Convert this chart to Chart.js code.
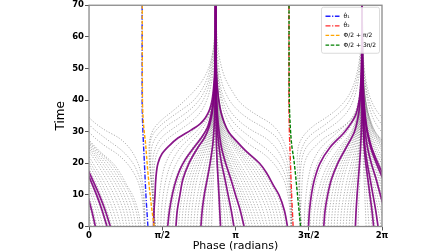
<!DOCTYPE html>
<html><head><meta charset="utf-8">
<script src="https://cdn.jsdelivr.net/npm/chart.js@4.4.0/dist/chart.umd.min.js"></script>
<style>html,body{margin:0;padding:0;background:#fff;}#wrap{width:448px;height:252px;}</style>
</head><body><div id="wrap"><canvas id="c" width="448" height="252"></canvas></div>
<script>
// ---------- axis ticks ----------
const xTickValues = [0, Math.PI/2, Math.PI, 3*Math.PI/2, 2*Math.PI];
const xTickLabels = ['0', 'π/2', 'π', '3π/2', '2π'];
const yTickValues = [0,10,20,30,40,50,60,70];

// ---------- stable phases where trajectories converge (rad) ----------
const stablePhases = [2.714, 5.856];

// ---------- gray trajectories moving LEFT toward a stable phase ----------
// outer members: flat [time, phase offset right of the stable phase (rad), ...]
const leftOuter = [
 [0,1.637, 10,1.622, 15,1.601, 21,1.579, 26,1.483, 30.3,1.333, 33,1.141, 34.5,0.969, 36.5,0.755, 39,0.541, 43,0.349, 47,0.203, 51,0.118, 55,0.064, 60,0.030, 65,0.013],
 [0,1.635, 10,1.616, 15,1.588, 20,1.541, 25,1.434, 28.5,1.284, 31.5,1.006, 33.5,0.770, 36,0.535, 39,0.342, 43,0.193, 47,0.111, 52,0.056, 57,0.026, 62,0.011],
 [0,1.631, 10,1.605, 15,1.562, 20,1.477, 25,1.284, 28,1.070, 30.5,0.770, 33,0.535, 36,0.342, 40,0.193, 44,0.111, 48,0.064, 53,0.030, 58,0.013],
 [0,1.622, 5,1.611, 10,1.584, 15,1.519, 20,1.370, 24,1.134, 28,0.770, 31,0.514, 34,0.332, 38,0.193, 42,0.111, 47,0.056, 52,0.026, 57,0.011],
 [0,1.609, 5,1.594, 10,1.552, 15,1.455, 20,1.241, 23,1.027, 25.5,0.770, 28,0.556, 31,0.364, 35,0.214, 40,0.118, 45,0.064, 50,0.032, 55,0.015],
 [0,1.541, 5,1.477, 10,1.359, 13,1.241, 17,1.091, 20,0.942, 24,0.642, 27,0.449, 30,0.278, 33,0.182, 36,0.118, 40,0.068, 45,0.034, 50,0.015, 55,0.006]
];
// inner members: offsets (rad) at the times in innerTimes
const innerTimes = [0,5,10,15,20,25,30,35,40,45,50,55,60];
const leftInner = [
 [1.498,1.434,1.316,1.124,0.899,0.546,0.282,0.152,0.077,0.039,0.019,0.010],
 [1.434,1.365,1.245,1.066,0.839,0.514,0.270,0.146,0.075,0.039,0.019,0.010],
 [1.370,1.299,1.177,1.002,0.775,0.482,0.257,0.139,0.073,0.039,0.019],
 [1.305,1.233,1.113,0.937,0.715,0.449,0.242,0.133,0.071,0.036,0.019],
 [1.241,1.166,1.038,0.867,0.655,0.417,0.227,0.126,0.068,0.036,0.019],
 [1.177,1.098,0.963,0.792,0.595,0.375,0.201,0.116,0.064,0.036,0.021,0.012],
 [1.113,1.017,0.888,0.717,0.514,0.321,0.180,0.103,0.058,0.032,0.019,0.011],
 [1.049,0.946,0.813,0.653,0.460,0.282,0.161,0.092,0.051,0.030,0.017,0.010],
 [0.984,0.877,0.749,0.593,0.413,0.250,0.143,0.081,0.047,0.026,0.015,0.009],
 [0.920,0.813,0.685,0.535,0.370,0.220,0.128,0.073,0.041,0.024,0.013,0.007],
 [0.856,0.749,0.621,0.471,0.321,0.193,0.111,0.064,0.036,0.021,0.012,0.006],
 [0.792,0.691,0.567,0.434,0.295,0.175,0.101,0.058,0.032,0.019,0.011],
 [0.728,0.633,0.518,0.396,0.268,0.158,0.092,0.054,0.030,0.017,0.010],
 [0.663,0.578,0.471,0.360,0.240,0.141,0.081,0.047,0.028,0.015,0.009],
 [0.599,0.520,0.419,0.321,0.212,0.124,0.073,0.041,0.024,0.014,0.007],
 [0.535,0.462,0.372,0.285,0.186,0.109,0.062,0.036,0.021,0.012,0.006],
 [0.471,0.407,0.325,0.246,0.161,0.094,0.054,0.032,0.018,0.011],
 [0.407,0.349,0.278,0.210,0.135,0.079,0.045,0.027,0.015,0.009],
 [0.342,0.293,0.233,0.173,0.111,0.064,0.037,0.021,0.013,0.007],
 [0.278,0.238,0.188,0.139,0.090,0.051,0.030,0.017,0.010],
 [0.214,0.182,0.143,0.107,0.068,0.040,0.024,0.013,0.008],
 [0.150,0.126,0.101,0.075,0.047,0.028,0.016,0.009],
 [0.086,0.073,0.058,0.043,0.027,0.016,0.009,0.005]
];

// ---------- gray trajectories moving RIGHT toward a stable phase ----------
// outer members: flat [time, phase offset left of the stable phase (rad), ...]
const rightOuter = [
 [0,1.288, 5,1.320, 10,1.352, 15,1.385, 20,1.417, 25,1.427, 29,1.385, 31.5,1.299, 34,1.134, 36.6,0.914, 39.7,0.672, 44.9,0.342, 50,0.150, 54,0.075, 58,0.032, 63,0.011],
 [0,1.290, 10,1.352, 20,1.408, 25,1.412, 29,1.348, 32,1.177, 34.5,0.963, 36.5,0.770, 39,0.535, 42,0.353, 46,0.203, 51,0.103, 56,0.047, 61,0.019],
 [0,1.295, 10,1.348, 20,1.391, 25,1.370, 29,1.241, 32,1.027, 34.5,0.770, 37,0.546, 40,0.353, 44,0.203, 49,0.103, 54,0.047, 59,0.019],
 [0,1.305, 10,1.338, 20,1.348, 25,1.284, 28.5,1.134, 32.5,0.770, 35,0.556, 38,0.353, 42,0.203, 47,0.103, 52,0.047, 57,0.019],
 [0,1.327, 10,1.338, 20,1.305, 25,1.198, 28,1.006, 30.5,0.770, 33,0.535, 36,0.332, 40,0.188, 45,0.096, 50,0.045, 55,0.019],
 [0,1.331, 5,1.320, 10,1.299, 15.7,1.278, 20,1.235, 23,1.149, 25.5,0.999, 28,0.807, 30.5,0.529, 32.5,0.332, 34.5,0.214, 37,0.128, 40,0.075, 45,0.036, 50,0.017, 55,0.007]
];
// inner members: offsets (rad) at the times in innerTimes
const rightInner = [
 [1.241,1.231,1.203,1.156,1.070,0.877,0.514,0.171,0.068,0.033,0.016,0.007],
 [1.177,1.160,1.124,1.061,0.954,0.749,0.417,0.154,0.064,0.031,0.015,0.006],
 [1.113,1.091,1.044,0.969,0.841,0.621,0.321,0.135,0.060,0.030,0.014,0.006],
 [1.049,1.017,0.952,0.862,0.717,0.488,0.235,0.113,0.056,0.028,0.013,0.006],
 [0.984,0.952,0.888,0.796,0.653,0.439,0.210,0.103,0.051,0.026,0.012,0.005],
 [0.920,0.890,0.828,0.738,0.599,0.398,0.190,0.094,0.047,0.024,0.011,0.005],
 [0.856,0.828,0.770,0.685,0.548,0.360,0.171,0.086,0.043,0.021,0.010,0.004],
 [0.792,0.764,0.708,0.629,0.499,0.321,0.154,0.077,0.039,0.019,0.009],
 [0.728,0.700,0.646,0.571,0.449,0.285,0.137,0.068,0.034,0.017,0.008],
 [0.663,0.636,0.584,0.514,0.398,0.248,0.120,0.060,0.030,0.015,0.007],
 [0.599,0.574,0.524,0.456,0.349,0.214,0.105,0.054,0.027,0.013,0.006],
 [0.535,0.509,0.462,0.398,0.300,0.182,0.090,0.045,0.024,0.012,0.006],
 [0.471,0.441,0.387,0.317,0.231,0.146,0.075,0.039,0.020,0.011],
 [0.407,0.377,0.325,0.257,0.182,0.113,0.060,0.032,0.017,0.009],
 [0.342,0.312,0.263,0.201,0.135,0.081,0.045,0.025,0.013,0.007],
 [0.278,0.253,0.212,0.161,0.107,0.064,0.036,0.020,0.011,0.006],
 [0.214,0.193,0.161,0.122,0.081,0.049,0.028,0.015,0.008,0.004],
 [0.150,0.135,0.111,0.083,0.056,0.034,0.019,0.011,0.006],
 [0.086,0.077,0.064,0.047,0.032,0.019,0.011,0.006]
];

// ---------- highlighted (purple) trajectories: flat [time, phase (rad), ...] ----------
// phases below 0 continue past the wrap and are shown again at phase + 2π
const purpleTrajectories = [
 [0,4.255, 5,4.191, 10,4.073, 13,3.955, 17,3.805, 20,3.656, 24,3.356, 27,3.163, 30,2.992, 33,2.896, 36,2.832, 40,2.782, 45,2.748, 50,2.729, 55,2.720, 70,2.714],
 [0,3.326, 5,3.245, 10,3.142, 15,3.041, 20,2.930, 25,2.840, 30,2.789, 35,2.756, 40,2.738, 45,2.728, 50,2.721, 70,2.714],
 [0,3.106, 5,3.050, 10,2.982, 15,2.915, 20,2.842, 25,2.790, 30,2.757, 35,2.740, 40,2.728, 45,2.722, 70,2.714],
 [0,2.821, 5,2.804, 10,2.787, 15,2.768, 20,2.748, 25,2.734, 30,2.726, 35,2.721, 70,2.714],
 [0,1.383, 5,1.394, 10,1.415, 15.7,1.436, 20,1.479, 23,1.565, 25.5,1.715, 28,1.907, 30.5,2.185, 32.5,2.382, 34.5,2.500, 37,2.586, 40,2.639, 45,2.678, 50,2.697, 55,2.707, 70,2.714],
 [0,1.687, 5,1.725, 10.6,1.794, 15,1.875, 18,1.950, 21,2.057, 25,2.250, 28.3,2.421, 31.4,2.543, 33.4,2.586, 37,2.637, 42,2.678, 47,2.697, 52,2.707, 70,2.714],
 [0,1.864, 5,1.892, 10,1.950, 15,2.014, 20,2.143, 25,2.335, 28,2.474, 31,2.564, 34,2.618, 38,2.660, 43,2.688, 48,2.702, 70,2.714],
 [0,2.399, 5,2.427, 10,2.472, 15.6,2.543, 20,2.596, 26,2.654, 32,2.684, 38,2.699, 44,2.707, 70,2.714],
 [0,4.707, 5,4.728, 10,4.769, 15,4.837, 20,4.953, 25,5.167, 30,5.486, 35,5.710, 40,5.794, 45,5.826, 50,5.841, 55,5.850, 70,5.856],
 [0,5.034, 5,5.062, 10,5.118, 15,5.201, 20,5.334, 25,5.516, 30,5.693, 35,5.775, 40,5.815, 45,5.836, 50,5.846, 70,5.856],
 [0,5.713, 5,5.728, 10,5.749, 15,5.775, 20,5.802, 25,5.824, 30,5.838, 35,5.846, 40,5.850, 70,5.856],
 [0,6.104, 5,6.068, 10,6.023, 15,5.980, 20,5.935, 25,5.902, 30,5.883, 35,5.871, 40,5.865, 70,5.856],
 [0,6.198, 5,6.149, 10,6.089, 15,6.029, 20,5.967, 25,5.920, 30,5.893, 35,5.877, 40,5.869, 45,5.863, 70,5.856],
 [0,0.457, 5,0.350, 10,0.219, 15,0.069, 20,-0.087, 25,-0.222, 30,-0.309, 35,-0.359, 40,-0.388, 45,-0.405, 50,-0.415, 55,-0.420, 70,-0.427],
 [0,0.386, 5,0.283, 10,0.162, 15,0.022, 20,-0.121, 25,-0.243, 30,-0.322, 35,-0.367, 40,-0.393, 45,-0.407, 50,-0.416, 55,-0.421, 70,-0.427],
 [0,0.136, 5,0.059, 10,-0.035, 15,-0.127, 20,-0.230, 25,-0.311, 30,-0.361, 35,-0.388, 40,-0.405, 45,-0.414, 50,-0.420, 70,-0.427]
];

// ---------- reference lines: flat [time, phase (rad), ...] ----------
const theta1Dot    = [0,1.263, 10,1.220, 20,1.188, 30,1.156, 40,1.139, 70,1.139];
const theta2Dot    = [0,4.377, 10,4.345, 20,4.320, 30,4.297, 40,4.287, 70,4.287];
const halfPhiPi2   = [0,1.396, 6,1.342, 13,1.289, 20,1.246, 26,1.214, 32,1.171, 40,1.146, 70,1.141];
const halfPhi3Pi2  = [0,4.537, 10.6,4.467, 21,4.394, 26,4.345, 36,4.302, 40,4.295, 70,4.289];
const refLabels = ['θ\u0307\u2081', 'θ\u0307\u2082', 'Φ/2 + π/2', 'Φ/2 + 3π/2'];
const refColors = ['#2020ff', '#ff2d2d', '#ffa500', '#008000'];

// ---------- build datasets ----------
const TWO_PI = 2*Math.PI;
const TOP_TIME = yTickValues[yTickValues.length-1];
function innerToFlat(vals) {
  const f = [];
  vals.forEach((v,i) => f.push(innerTimes[i], v));
  return f;
}
const leftFamily = leftOuter.concat(leftInner.map(innerToFlat));
const rightFamily = rightOuter.concat(rightInner.map(innerToFlat));
function pts(flat, base, sign, shift, closeAtTop) {
  const out = [];
  for (let i = 0; i < flat.length; i += 2) out.push({x: base + sign*flat[i+1] + shift, y: flat[i]});
  if (closeAtTop) out.push({x: base + shift, y: TOP_TIME}); // every trajectory ends on its stable phase
  return out;
}
const grayStyle = {borderColor:'rgba(120,120,120,0.6)', borderWidth:1, borderDash:[1.2,1.6], order:3};
const purpleStyle = {borderColor:'rgba(128,0,128,0.9)', borderWidth:1.7, order:2};
const datasets = [];
const familyCopies = [
  {fam:leftFamily,  base:stablePhases[0], sign: 1, from:0, shifts:[0]},
  {fam:leftFamily,  base:stablePhases[1], sign: 1, from:2, shifts:[0, -TWO_PI]},
  {fam:rightFamily, base:stablePhases[0], sign:-1, from:0, shifts:[0]},
  {fam:rightFamily, base:stablePhases[1], sign:-1, from:2, shifts:[0]}
];
familyCopies.forEach(c => {
  c.fam.slice(c.from).forEach(curve => {
    c.shifts.forEach(s => datasets.push(Object.assign({data: pts(curve, c.base, c.sign, s, true)}, grayStyle)));
  });
});
purpleTrajectories.forEach(curve => {
  const wraps = curve.some((v,i) => i%2===1 && v < 0);
  datasets.push(Object.assign({data: pts(curve, 0, 1, 0, false)}, purpleStyle));
  if (wraps) datasets.push(Object.assign({data: pts(curve, 0, 1, TWO_PI, false)}, purpleStyle));
});
const refSeries = [theta1Dot, theta2Dot, halfPhiPi2, halfPhi3Pi2];
const refDash = [[5,1.6,1.2,1.6],[5,1.6,1.2,1.6],[3.6,1.6],[3.6,1.6]];
const refOrder = [1, 1, 0, 0];   // dashed Φ/2 lines sit on top of the θ̇ lines
refSeries.forEach((s,i) => datasets.push({
  label: refLabels[i], data: pts(s, 0, 1, 0, false), borderColor: refColors[i], borderWidth: 1.4,
  borderDash: refDash[i], order: refOrder[i], isRef: true
}));
datasets.forEach(d => { d.pointRadius = 0; d.showLine = true; d.cubicInterpolationMode = 'monotone'; d.clip = 0; });

const FONT = 'DejaVu Sans';
const framePlugin = {
  id: 'frame',
  afterDraw(chart) {
    const {ctx, chartArea: a} = chart;
    ctx.save();
    ctx.strokeStyle = '#8a8a8a'; ctx.lineWidth = 1.3; ctx.setLineDash([]);
    ctx.strokeRect(a.left, a.top, a.right - a.left, a.bottom - a.top);
    const refs = chart.data.datasets.filter(d => d.isRef);
    const w = 58, h = 46, x0 = a.right - w - 2.5, y0 = a.top + 2;
    ctx.fillStyle = 'rgba(255,255,255,0.85)'; ctx.strokeStyle = '#d2d2d2'; ctx.lineWidth = 0.8;
    ctx.beginPath(); ctx.roundRect(x0, y0, w, h, 2); ctx.fill(); ctx.stroke();
    refs.forEach((d, i) => {
      const y = y0 + 9 + i*9.6;
      ctx.strokeStyle = d.borderColor; ctx.lineWidth = 1.3; ctx.setLineDash(d.borderDash);
      ctx.beginPath(); ctx.moveTo(x0 + 4, y); ctx.lineTo(x0 + 18, y); ctx.stroke();
      ctx.setLineDash([]);
      ctx.fillStyle = '#000'; ctx.font = '6px "' + FONT + '"'; ctx.textBaseline = 'middle';
      ctx.fillText(d.label, x0 + 22, y);
    });
    ctx.restore();
  }
};

new Chart(document.getElementById('c'), {
  type: 'scatter',
  data: {datasets},
  plugins: [framePlugin],
  options: {
    responsive: false, animation: false, devicePixelRatio: 1, indexAxis: 'y',
    layout: {padding: {left: 54, right: 66, top: 0, bottom: 0}},
    plugins: {legend: {display: false}, tooltip: {enabled: false}},
    elements: {line: {capBezierPoints: false}, point: {radius: 0}},
    scales: {
      x: {type: 'linear', axis: 'x', position: 'bottom', min: 0, max: TWO_PI,
          afterBuildTicks: s => { s.ticks = xTickValues.map(v => ({value: v})); },
          ticks: {callback: (v, i) => xTickLabels[i], autoSkip: false, maxRotation: 0, padding: 1,
                  color: '#000', font: {family: FONT, size: 8.5, weight: 'bold', lineHeight: 1}},
          grid: {drawOnChartArea: false, tickLength: 4, color: '#555'},
          border: {display: false},
          title: {display: true, text: 'Phase (radians)', color: '#000', padding: {top: 0, bottom: 0},
                  font: {family: FONT, size: 11, lineHeight: 1}}},
      y: {type: 'linear', axis: 'y', position: 'left', min: 0, max: 70,
          afterBuildTicks: s => { s.ticks = yTickValues.map(v => ({value: v})); },
          ticks: {padding: 1, color: '#000', font: {family: FONT, size: 8.5, weight: 'bold', lineHeight: 1}},
          grid: {drawOnChartArea: false, tickLength: 4, color: '#555'},
          border: {display: false},
          title: {display: true, text: 'Time', color: '#000', padding: {top: 0, bottom: 4},
                  font: {family: FONT, size: 12, lineHeight: 1.1}}}
    }
  }
});
</script></body></html>
